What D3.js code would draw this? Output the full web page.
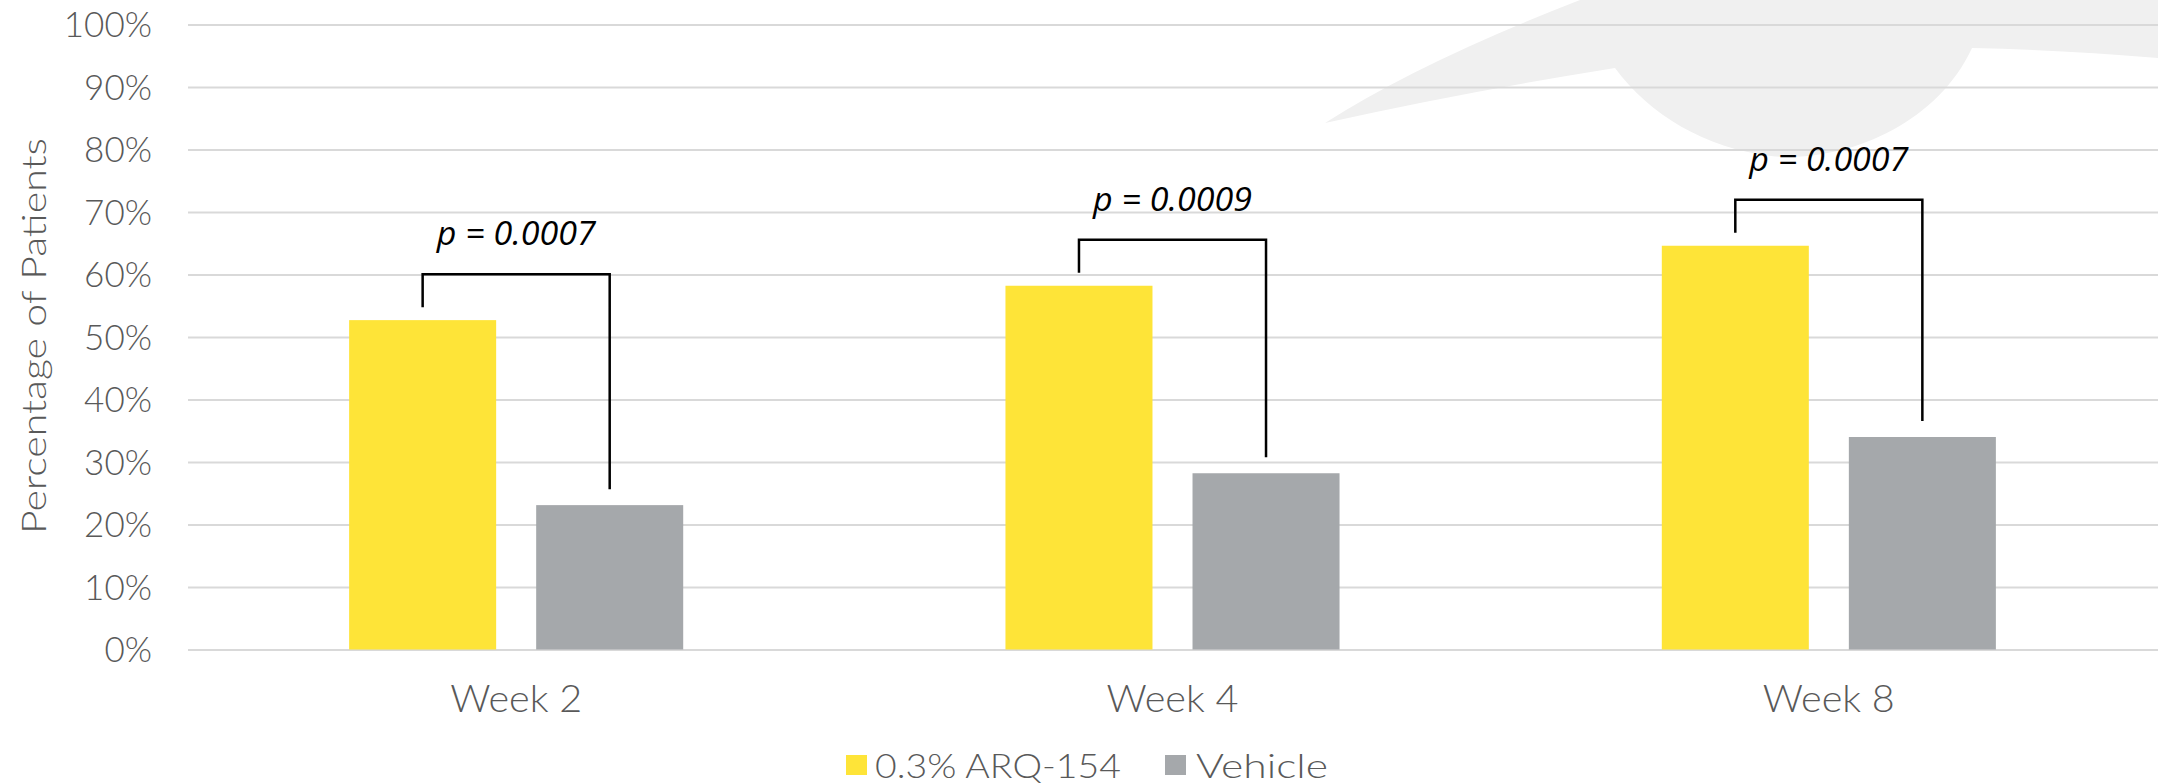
<!DOCTYPE html>
<html>
<head>
<meta charset="utf-8">
<script src="https://cdn.jsdelivr.net/npm/d3@7"></script>
<style>
  html, body { margin: 0; padding: 0; background: #ffffff; }
  svg { display: block; }
  .lbl { font-family: Lato, "Noto Sans", sans-serif; font-weight: 300; fill: #595959; }
  .pval { font-family: "Open Sans", "Noto Sans", sans-serif; font-style: italic; fill: #000; }
</style>
</head>
<body>
<script>
// ---- data ----
const weeks = ["Week 2", "Week 4", "Week 8"];
const seriesNames = ["0.3% ARQ-154", "Vehicle"];
const arqValues = [52.7, 58.2, 64.6];
const vehicleValues = [23.1, 28.2, 34.0];
const pLabels = ["p = 0.0007", "p = 0.0009", "p = 0.0007"];
const yTicks = [0, 10, 20, 30, 40, 50, 60, 70, 80, 90, 100];
const seriesColors = ["#FEE438", "#A5A8AB"];

// ---- layout ----
const W = 2158, H = 784;
const plot = { left: 188, right: 2157, top: 24.5, bottom: 649.5 };

const svg = d3.select("body").append("svg").attr("width", W).attr("height", H);
svg.append("rect").attr("width", W).attr("height", H).attr("fill", "#fff");

// faint background watermark (decoration)
svg.append("path")
  .attr("d", "M1325,123 Q1420,62 1580,0 L2158,0 L2158,58 Q2060,50 1972,48 C1935,128 1840,163 1771,156 C1705,148 1650,115 1615,68 Q1465,92 1325,123 Z")
  .attr("fill", "#F0F0F0");

const x0 = d3.scaleBand().domain(weeks).range([plot.left, plot.right]).paddingInner(0.491).paddingOuter(0.2455);
const x1 = d3.scaleBand().domain(seriesNames).range([0, x0.bandwidth()]).paddingInner(0.214).paddingOuter(0);
const y = d3.scaleLinear().domain([0, 100]).range([plot.bottom, plot.top]);

// gridlines
const grid = svg.append("g").attr("transform", `translate(${plot.left},0)`)
  .call(d3.axisLeft(y).tickValues(yTicks).tickSize(-(W - plot.left)).tickFormat(""));
grid.select(".domain").remove();
grid.selectAll("line").attr("stroke", "#D9D9D9").attr("stroke-width", 2);

// y tick labels
const yAxis = svg.append("g").attr("transform", `translate(${plot.left},0)`)
  .call(d3.axisLeft(y).tickValues(yTicks).tickSize(0).tickPadding(36).tickFormat(d => d + "%"));
yAxis.select(".domain").remove();
yAxis.selectAll("text").attr("class", "lbl").style("font-size", "35px").attr("dy", "0.35em");

// y title
svg.append("text").attr("class", "lbl")
  .attr("transform", `translate(46,336) rotate(-90)`)
  .attr("text-anchor", "middle")
  .style("font-size", "34px")
  .attr("textLength", 396).attr("lengthAdjust", "spacingAndGlyphs")
  .text("Percentage of Patients");

// bars
const rows = weeks.map((w, i) => ({ week: w, vals: [arqValues[i], vehicleValues[i]], p: pLabels[i] }));
const groups = svg.append("g").selectAll("g").data(rows).join("g")
  .attr("transform", d => `translate(${x0(d.week)},0)`);
groups.selectAll("rect").data(d => d.vals.map((v, j) => ({ name: seriesNames[j], v, j })))
  .join("rect")
  .attr("x", d => x1(d.name))
  .attr("width", x1.bandwidth())
  .attr("y", d => y(d.v))
  .attr("height", d => y(0) - y(d.v))
  .attr("fill", d => seriesColors[d.j]);

// significance brackets
groups.each(function (d) {
  const g = d3.select(this);
  const xa = x1(seriesNames[0]) + x1.bandwidth() / 2;
  const xb = x1(seriesNames[1]) + x1.bandwidth() / 2;
  const ya = y(d.vals[0]);
  const yb = y(d.vals[1]);
  const top = ya - 46;
  g.append("path")
    .attr("d", `M${xa},${ya - 13}V${top}H${xb}V${yb - 16}`)
    .attr("fill", "none").attr("stroke", "#000").attr("stroke-width", 2.5);
  g.append("text").attr("class", "pval")
    .attr("x", (xa + xb) / 2).attr("y", top - 29)
    .attr("text-anchor", "middle")
    .style("font-size", "32px")
    .attr("textLength", 159).attr("lengthAdjust", "spacingAndGlyphs")
    .text(d.p);
});

// x labels
svg.append("g").selectAll("text").data(weeks).join("text")
  .attr("class", "lbl")
  .attr("x", d => x0(d) + x0.bandwidth() / 2)
  .attr("y", 712)
  .attr("text-anchor", "middle")
  .style("font-size", "37px")
  .attr("textLength", 132).attr("lengthAdjust", "spacingAndGlyphs")
  .text(d => d);

// legend
const legendItems = [
  { name: seriesNames[0], color: seriesColors[0], sx: 846, tx: 875, tw: 246 },
  { name: seriesNames[1], color: seriesColors[1], sx: 1165, tx: 1196, tw: 132 }
];
const lg = svg.append("g").selectAll("g").data(legendItems).join("g");
lg.append("rect").attr("x", d => d.sx).attr("y", 755).attr("width", 21).attr("height", 20).attr("fill", d => d.color);
lg.append("text").attr("class", "lbl")
  .attr("x", d => d.tx).attr("y", 778)
  .style("font-size", "34px")
  .attr("textLength", d => d.tw).attr("lengthAdjust", "spacingAndGlyphs")
  .text(d => d.name);
</script>
</body>
</html>
